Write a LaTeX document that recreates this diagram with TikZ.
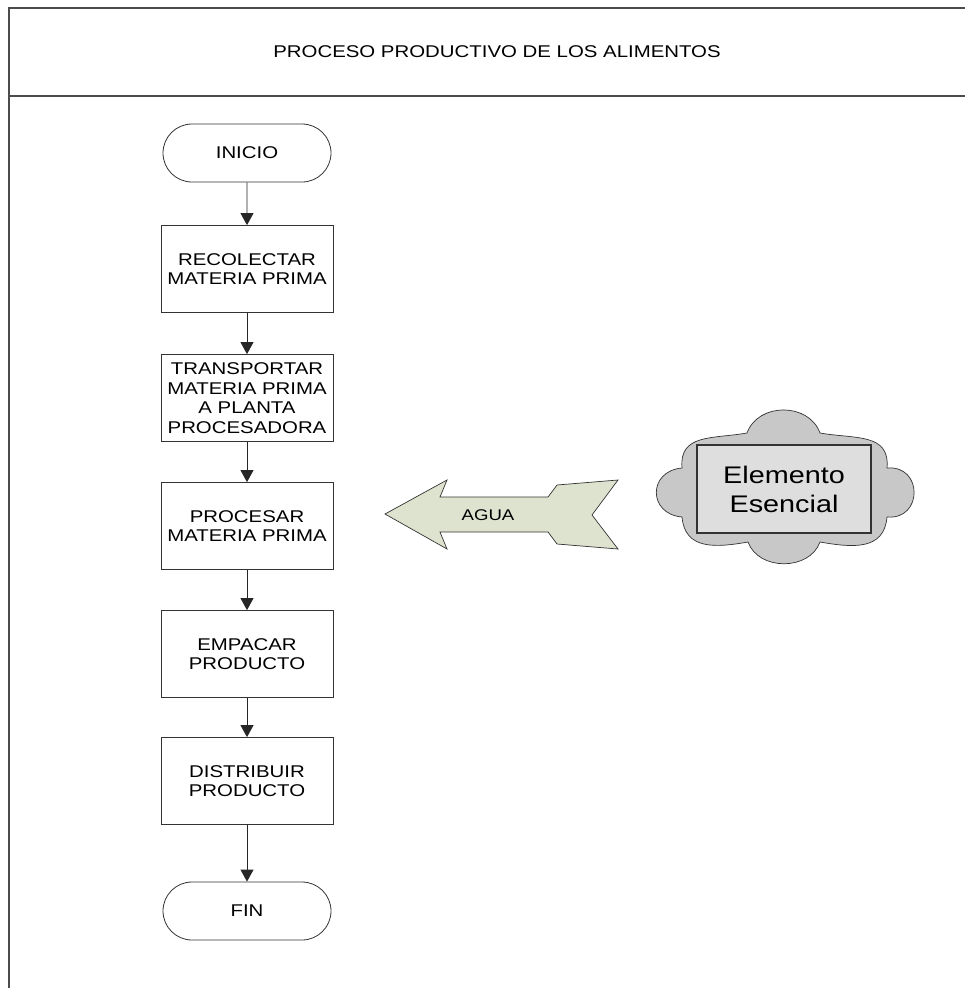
\documentclass[tikz,border=0pt]{standalone}
\usepackage{fontspec}
\setmainfont{Liberation Sans}[FakeStretch=1.2]
\usetikzlibrary{arrows.meta,shapes.misc}
\definecolor{agua}{RGB}{222,227,207}
\definecolor{nube}{RGB}{200,200,200}
\definecolor{elem}{RGB}{222,222,222}
\tikzset{
	caja/.style={draw=black!80, fill=white, line width=0.8pt, minimum width=172pt, minimum height=87pt, align=center, inner sep=2pt, font=\fontsize{17}{19.5}\selectfont},
	term/.style={caja, rounded rectangle, minimum height=58pt},
	flecha/.style={-{Triangle[width=13pt,length=12pt]}, draw=black!85, line width=0.8pt}
}
\begin{document}
\begin{tikzpicture}[x=1pt,y=-1pt]
				\useasboundingbox (0,0) rectangle (965,988);
				\coordinate (t1) at (9,8);
				\coordinate (t2) at (965,8);
				\coordinate (h1) at (9,96);
				\coordinate (h2) at (965,96);
				\coordinate (b1) at (9,988);
				
				\draw[black!70, line width=1.4pt] (t2) -- (t1) -- (b1);
				\draw[black!70, line width=1.4pt] (h1) -- (h2);
				\node[font=\fontsize{17}{20}\selectfont] (titulo) at (497,52) {PROCESO PRODUCTIVO DE LOS ALIMENTOS};
				
				\node[term] (inicio) at (247,153) {INICIO};
				\node[caja] (recolectar) at (247,269) {RECOLECTAR\\MATERIA PRIMA};
				\node[caja] (transportar) at (247,398) {TRANSPORTAR\\MATERIA PRIMA\\A PLANTA\\PROCESADORA};
				\node[caja] (procesar) at (247,526) {PROCESAR\\MATERIA PRIMA};
				\node[caja] (empacar) at (247,654) {EMPACAR\\PRODUCTO};
				\node[caja] (distribuir) at (247,781) {DISTRIBUIR\\PRODUCTO};
				\node[term] (fin) at (247,911) {FIN};
				
				\foreach \a/\b in {inicio/recolectar,recolectar/transportar,transportar/procesar,procesar/empacar,empacar/distribuir,distribuir/fin}{
					\draw[flecha] (\a) -- (\b);}
				
				\draw[fill=agua, draw=black!80, line width=0.7pt]
				(385,514) -- (447,480) -- (440,497) -- (548,497) -- (557,485) -- (618,480) -- (592,515)
				-- (618,549) -- (557,544) -- (548,532) -- (440,532) -- (447,549) -- cycle;
				\node[font=\fontsize{15.5}{18}\selectfont] (agua) at (488,515) {AGUA};
				
				\coordinate (c1) at (682,468);
				\coordinate (c2) at (747,433);
				\coordinate (c3) at (820,433);
				\coordinate (c4) at (887,468);
				\coordinate (c5) at (887,517);
				\coordinate (c6) at (820,542);
				\coordinate (c7) at (748,542);
				\coordinate (c8) at (682,517);
				
				\draw[fill=nube, draw=black!80, line width=0.7pt]
				(c1) to[out=95,in=190,looseness=1.2] (c2) to[out=70,in=110,looseness=1.15] (c3) to[out=-10,in=85,looseness=1.2] (c4)
				to[out=5,in=-5,looseness=1.9] (c5) to[out=-95,in=-10,looseness=1.2] (c6) to[out=-110,in=-70,looseness=1.1] (c7)
				to[out=-170,in=-85,looseness=1.2] (c8) to[out=175,in=185,looseness=1.8] (c1) -- cycle;
				
				\node[draw=black!80, fill=elem, line width=1.2pt, minimum width=174pt, minimum height=88pt, align=center, font=\fontsize{24}{29}\selectfont] (elemento) at (784,489) {Elemento\\Esencial};
			\end{tikzpicture}
\end{document}
